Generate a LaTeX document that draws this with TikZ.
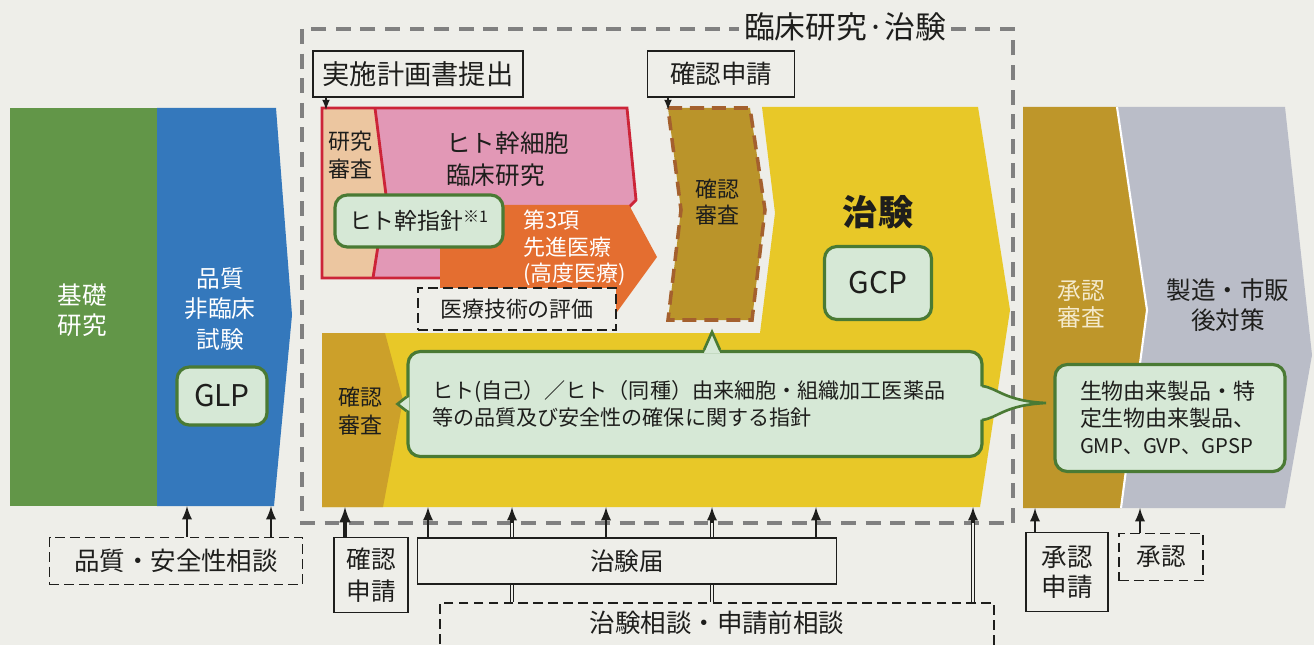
\documentclass[tikz,border=0pt]{standalone}
\usepackage{fontspec}
\setmainfont{Noto Sans CJK JP}
\usepackage{tikz}

\definecolor{paper}{RGB}{238,238,233}
\definecolor{cInk}{RGB}{30,30,28}
\definecolor{cKiso}{RGB}{98,150,72}
\definecolor{cHin}{RGB}{52,120,188}
\definecolor{cKenkyu}{RGB}{236,198,160}
\definecolor{cSaibo}{RGB}{226,152,182}
\definecolor{cAka}{RGB}{204,36,56}
\definecolor{cSenshin}{RGB}{228,110,48}
\definecolor{cKakunin}{RGB}{186,148,42}
\definecolor{cTenten}{RGB}{164,96,46}
\definecolor{cChiken}{RGB}{232,200,40}
\definecolor{cKoki}{RGB}{204,160,42}
\definecolor{cShonin}{RGB}{190,150,42}
\definecolor{cSeizo}{RGB}{186,189,200}
\definecolor{cShishin}{RGB}{214,232,214}
\definecolor{cShishinLine}{RGB}{74,122,52}
\definecolor{cWaku}{RGB}{128,128,128}
\definecolor{cCream}{RGB}{244,234,204}

\tikzset{
  fs/.style 2 args={font=\fontsize{#1}{#2}\selectfont},
  sz/.style 2 args={minimum width=#1*0.02cm, minimum height=#2*0.02cm},
  ink/.style={text=cInk, align=center},
  wtext/.style={text=white, align=center},
  solidbox/.style={draw=cInk, line width=1.1pt, fill=paper, inner sep=0pt, ink},
  dashbox/.style={solidbox, dash pattern=on 5.5pt off 3pt},
  shishin/.style={draw=cShishinLine, line width=1.8pt, fill=cShishin, rounded corners=7pt, inner sep=0pt, ink},
  waku/.style={draw=cWaku, line width=1.8pt, dash pattern=on 8.5pt off 5.5pt},
  arr/.style={draw=cInk, line width=1.6pt, -latex},
  dbl/.style={draw=cInk, line width=0.6pt, double=paper, double distance=1.3pt, shorten >=7pt},
}

\begin{document}
\begin{tikzpicture}[x=0.02cm, y=-0.02cm]
  \useasboundingbox (0,0) rectangle (1314,645);
  \clip (0,0) rectangle (1314,645);
  \fill[paper] (0,0) rectangle (1314,645);

  % clinical research frame
  \draw[waku] (302,29) rectangle (1013,523);
  \node[ink, fs={17.5}{20}, fill=paper, inner xsep=3pt, inner ysep=1pt] (title) at (845,27) {臨床研究·治験};

  % basic research and non-clinical
  \fill[cKiso] (10,108) rectangle (157,506);
  \fill[cHin] (157,108) -- (276,108) -- (292,315) -- (274,506) -- (157,506) -- cycle;
  \node[wtext, fs={14}{17}] (kiso) at (82,310) {基礎\\研究};
  \node[wtext, fs={13.5}{17.5}] (hin) at (220,309) {品質\\非臨床\\試験};
  \node[shishin, sz={90}{58}, fs={17}{20}] (glp) at (222,396) {GLP};

  % stem cell clinical research
  \fill[cSaibo] (322,108) -- (627,108) -- (636,200) -- (560,278) -- (322,278) -- cycle;
  \fill[cKenkyu] (322,108) -- (375,108) -- (386,195) -- (373,278) -- (322,278) -- cycle;
  \draw[cAka, line width=1.6pt] (375,108) -- (386,195) -- (373,278);
  \draw[cAka, line width=1.6pt] (322,108) -- (627,108) -- (636,200) -- (560,278) -- (322,278) -- cycle;
  \fill[cSenshin] (440,205) -- (629,205) -- (657,257) -- (617,312) -- (440,312) -- cycle;
  \node[ink, fs={12.5}{16}] (kenkyu) at (350,155) {研究\\審査};
  \node[ink, fs={14}{18}, align=left, anchor=west] (saibo) at (440,159) {ヒト幹細胞\\臨床研究};
  \node[shishin, sz={168}{52}, fs={13}{16}] (hitokan) at (419,221) {ヒト幹指針\textsuperscript{※1}};
  \node[wtext, fs={12.5}{15}, align=left, anchor=west] (senshin) at (517,248) {第3項\\先進医療\\(高度医療)};
  \node[dashbox, sz={198}{42}, fs={12.5}{15}] (hyoka) at (517,309) {医療技術の評価};
  \node[solidbox, sz={210}{46}, fs={15.5}{18}] (jisshi) at (418,74) {実施計画書提出};
  \coordinate (rtop) at (322,110);
  \draw[arr, line width=1pt] (jisshi.south -| 326,0) -- (rtop -| 326,0);

  % confirmation and clinical trial
  \node[solidbox, sz={147}{46}, fs={14.5}{17}] (kakushin) at (721,74) {確認申請};
  \filldraw[fill=cKakunin, draw=cTenten, line width=2pt, dash pattern=on 8pt off 4.5pt] (668,108) -- (750,108) -- (765,210) -- (752,320) -- (668,320) -- (681,210) -- cycle;
  \node[ink, fs={12.5}{14.5}] (kakunin) at (717,202) {確認\\審査};
  \coordinate (btop) at (668,110);
  \draw[arr, line width=1pt] (kakushin.south -| btop) -- (btop);
  \fill[cChiken] (322,333) -- (760,333) -- (775,213) -- (762,107) -- (978,107) -- (1010,310) -- (980,507) -- (322,507) -- cycle;
  \fill[cKoki] (322,333) -- (385,333) -- (403,400) -- (383,507) -- (322,507) -- cycle;
  \node[ink, fs={20}{24}] (chiken) at (878,212) {\bfseries 治験};
  \node[shishin, sz={107}{73}, fs={17}{20}] (gcp) at (878,283) {GCP};
  \node[ink, fs={12.5}{15.5}] (kakunin2) at (360,411) {確認\\審査};

  % approval and post-marketing
  \fill[cSeizo] (1117,107) -- (1285,107) -- (1312,355) -- (1285,508) -- (1121,508) -- (1147,310) -- cycle;
  \fill[cShonin] (1023,107) -- (1117,107) -- (1147,310) -- (1121,508) -- (1023,508) -- cycle;
  \draw[white, line width=1.2pt] (1117,107) -- (1147,310) -- (1121,508);
  \node[text=cCream, align=center, fs={13.5}{15.5}] (shonin0) at (1081,304) {承認\\審査};
  \node[ink, fs={14}{17}] (seizo) at (1228,305) {製造・市販\\後対策};

  % guidelines
  \node[shishin, text width=10.52cm, inner xsep=0.48cm, minimum height=105*0.02cm, align=left, fs={12}{15}] (gl) at (695,404) {ヒト(自己）／ヒト（同種）由来細胞・組織加工医薬品\\等の品質及び安全性の確保に関する指針};
  \fill[cShishin] (gl.west) ++(3,-7) -- ++(-13,7) -- ++(13,7) -- cycle;
  \draw[cShishinLine, line width=1.5pt] (gl.west) ++(0,-7) -- ++(-9,7) -- ++(9,7);
  \fill[cShishin] (gl.north -| 712,0) ++(-8,3) -- ++(8,-21) -- ++(8,21) -- cycle;
  \draw[cShishinLine, line width=1.5pt] (gl.north -| 712,0) ++(-8,0) -- ++(8,-18) -- ++(8,18);
  \fill[cShishin] (978,386) .. controls (998,388) and (1004,401) .. (1046,403) .. controls (1004,405) and (998,418) .. (978,420) -- cycle;
  \draw[cShishinLine, line width=1.5pt] (982,386) .. controls (998,388) and (1004,401) .. (1046,403) .. controls (1004,405) and (998,418) .. (982,420);
  \node[shishin, text width=3.6cm, inner xsep=0.5cm, minimum height=107*0.02cm, align=left, fs={12.5}{15.5}] (seibutsu) at (1170,418) {生物由来製品・特\\定生物由来製品、\\{\fontsize{11.5}{15.5}\selectfont GMP、GVP、GPSP}};

  % consultations and applications
  \coordinate (lbot) at (157,506);
  \coordinate (ybot) at (322,507);
  \coordinate (rbot) at (1023,508);
  \node[dashbox, sz={253}{47}, fs={14.5}{17}] (anzen) at (176,561) {品質・安全性相談};
  \foreach \x in {187,271} \draw[arr] (anzen.north -| \x,0) -- (lbot -| \x,0);
  \node[solidbox, sz={74}{75}, fs={14}{18}] (kakushin2) at (371,575) {確認\\申請};
  \draw[arr, line width=2pt] (kakushin2.north -| 345,0) -- (ybot -| 345,0);
  \node[dashbox, anchor=north, minimum width=554*0.02cm, text height=17pt, text depth=40pt, fs={14.5}{17}] (sodan) at (717,602) {治験相談・申請前相談};
  \foreach \x in {512,712,973} {
    \draw[dbl] (sodan.north -| \x,0) -- (ybot -| \x,0);
    \draw[arr] ([yshift=-9pt]ybot -| \x,0) -- (ybot -| \x,0);
  }
  \node[solidbox, sz={419}{46}, fs={14}{17}] (todoke) at (627,561) {治験届};
  \foreach \x in {428,606,816} \draw[arr] (todoke.north -| \x,0) -- (ybot -| \x,0);
  \node[solidbox, sz={82}{79}, fs={14.5}{17}] (shoshin) at (1067,572) {承認\\申請};
  \node[dashbox, sz={84}{47}, fs={14}{17}] (shonin) at (1161,557) {承認};
  \draw[arr] (shoshin.north -| 1035,0) -- (rbot -| 1035,0);
  \draw[arr] (shonin.north -| 1140,0) -- (rbot -| 1140,0);
\end{tikzpicture}
\end{document}
